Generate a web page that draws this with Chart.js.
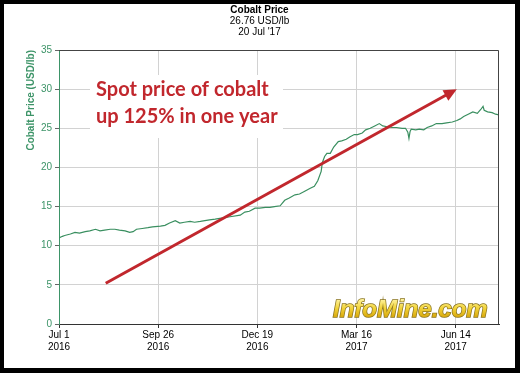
<!DOCTYPE html>
<html>
<head>
<meta charset="utf-8">
<script src="https://cdn.jsdelivr.net/npm/chart.js@4.4.0/dist/chart.umd.min.js"></script>
<style>
  html, body { margin: 0; padding: 0; background: #000; }
  #frame { position: absolute; left: 4px; top: 4px; width: 511px; height: 364px; background: #fff; }
  canvas { display: block; }
</style>
</head>
<body>
<div id="frame"><canvas id="cobaltChart" width="511" height="364"></canvas></div>
<script>
// x = trading day index since Jul 1 2016, y = USD/lb
const tradingDay = [0, 3, 5, 10, 14, 18, 23, 27, 32, 36, 40, 45, 49, 53, 58, 62, 65, 68, 73, 78,
  82, 89, 93, 97, 102, 106, 110, 115, 119, 124, 132, 137, 141, 150, 159, 163, 167, 172, 176, 181,
  185, 189, 194, 198, 202, 207, 211, 216, 220, 224, 227, 230, 231, 233, 235, 238, 241, 245, 248, 252,
  255, 259, 262, 266, 269, 273, 277, 281, 284, 288, 292, 296, 301, 304, 306, 307, 308, 309, 313, 316,
  320, 323, 327, 331, 336, 340, 345, 349, 352, 355, 359, 363, 367, 370, 372, 373, 376, 380, 383, 386];
const priceUsdLb = [11.0, 11.2, 11.3, 11.5, 11.7, 11.6, 11.8, 11.9, 12.1, 11.9, 12.0, 12.1, 12.1, 12.0, 11.9, 11.7, 11.8, 12.1, 12.2, 12.3,
  12.4, 12.5, 12.6, 12.9, 13.2, 12.9, 13.0, 13.1, 13.0, 13.1, 13.3, 13.4, 13.5, 13.7, 13.9, 14.3, 14.4, 14.8, 14.8, 14.9,
  14.9, 15.0, 15.1, 15.8, 16.1, 16.5, 16.6, 17.0, 17.3, 17.6, 18.3, 19.5, 20.6, 21.4, 21.8, 21.8, 22.6, 23.3, 23.4, 23.6,
  23.9, 24.2, 24.2, 24.4, 24.8, 25.0, 25.3, 25.6, 25.3, 25.2, 25.1, 25.1, 25.0, 25.0, 24.5, 23.7, 24.6, 24.9, 24.8, 24.9,
  24.8, 25.1, 25.3, 25.6, 25.6, 25.7, 25.8, 26.0, 26.2, 26.5, 26.8, 27.1, 26.9, 27.4, 27.8, 27.3, 27.1, 27.0, 26.8, 26.7];

const tickDays = [0, 87, 174, 261, 348];
const tickLabels = [["Jul 1", "2016"], ["Sep 26", "2016"], ["Dec 19", "2016"], ["Mar 16", "2017"], ["Jun 14", "2017"]];
const titleText = "Cobalt Price";
const subtitleLines = ["26.76 USD/lb", "20 Jul '17"];
const noteLines = ["Spot price of cobalt", "up 125% in one year"];
const arrowFrom = [41, 5.2];
const arrowTo = [349, 30.0];
const logoText = "InfoMine.com";

const green = "#3d9468";
const noteRed = "#c1272d";

const overlay = {
  id: "overlay",
  beforeDatasetsDraw(chart) {
    const { ctx, chartArea: a } = chart;
    ctx.save();
    // white box behind the note
    ctx.fillStyle = "#fff";
    ctx.fillRect(a.left + 31, a.top + 25, 193, 63);
    ctx.fillStyle = noteRed;
    ctx.font = "bold 20px Lato";
    ctx.textBaseline = "middle";
    ctx.fillText(noteLines[0], a.left + 37, a.top + 40);
    ctx.fillText(noteLines[1], a.left + 37, a.top + 67);
    ctx.restore();
  },
  afterDatasetsDraw(chart) {
    const { ctx, chartArea: a, scales: { x, y } } = chart;
    ctx.save();
    // plot frame top / right
    ctx.strokeStyle = "#444";
    ctx.lineWidth = 1;
    ctx.beginPath();
    ctx.moveTo(a.left, a.top + 0.5);
    ctx.lineTo(a.right - 0.5, a.top + 0.5);
    ctx.lineTo(a.right - 0.5, a.bottom);
    ctx.stroke();

    // trend arrow
    const x0 = x.getPixelForValue(arrowFrom[0]), y0 = y.getPixelForValue(arrowFrom[1]);
    const x1 = x.getPixelForValue(arrowTo[0]), y1 = y.getPixelForValue(arrowTo[1]);
    const ang = Math.atan2(y1 - y0, x1 - x0);
    ctx.strokeStyle = noteRed;
    ctx.fillStyle = noteRed;
    ctx.lineWidth = 3;
    ctx.beginPath();
    ctx.moveTo(x0, y0);
    ctx.lineTo(x1 - 8 * Math.cos(ang), y1 - 8 * Math.sin(ang));
    ctx.stroke();
    ctx.beginPath();
    ctx.moveTo(x1, y1);
    ctx.lineTo(x1 - 13 * Math.cos(ang) + 6 * Math.sin(ang), y1 - 13 * Math.sin(ang) - 6 * Math.cos(ang));
    ctx.lineTo(x1 - 13 * Math.cos(ang) - 6 * Math.sin(ang), y1 - 13 * Math.sin(ang) + 6 * Math.cos(ang));
    ctx.closePath();
    ctx.fill();

    // logo
    const lx = a.left + 274, ly = a.bottom - 7;
    ctx.font = "italic bold 24px 'Liberation Sans'";
    ctx.textBaseline = "alphabetic";
    const g = ctx.createLinearGradient(0, ly - 18, 0, ly);
    g.addColorStop(0, "#fff4a0");
    g.addColorStop(0.5, "#f2d43c");
    g.addColorStop(1, "#d9a90c");
    ctx.lineWidth = 1.5;
    ctx.strokeStyle = "#8a7420";
    ctx.strokeText(logoText, lx, ly);
    ctx.fillStyle = g;
    ctx.fillText(logoText, lx, ly);
    ctx.restore();
  }
};

new Chart(document.getElementById("cobaltChart"), {
  type: "line",
  data: {
    datasets: [{
      label: "Cobalt Price",
      data: tradingDay.map((d, i) => ({ x: d, y: priceUsdLb[i] })),
      borderColor: "#3a8f60",
      borderWidth: 1.2,
      pointRadius: 0,
      tension: 0
    }]
  },
  options: {
    responsive: false,
    animation: false,
    events: [],
    layout: { padding: { left: 16, right: 16, top: 0, bottom: 0 } },
    plugins: {
      legend: { display: false },
      tooltip: { enabled: false },
      title: {
        display: true,
        text: titleText,
        color: "#000",
        font: { family: "Liberation Sans", size: 10, weight: "bold", lineHeight: 1.1 },
        padding: { top: 1, bottom: 0 }
      },
      subtitle: {
        display: true,
        text: subtitleLines,
        color: "#000",
        font: { family: "Liberation Sans", size: 10, lineHeight: 1.1 },
        padding: { top: 0, bottom: 12 }
      }
    },
    scales: {
      x: {
        type: "linear",
        min: 0,
        max: 386,
        afterBuildTicks: axis => { axis.ticks = tickDays.map(v => ({ value: v })); },
        afterFit: s => { s.height = 44; },
        ticks: {
          callback: (v, i) => tickLabels[i],
          color: "#000",
          font: { family: "Liberation Sans", size: 10, lineHeight: 1.2 },
          padding: 1,
          maxRotation: 0,
          autoSkip: false
        },
        grid: { color: "#d2d2d2", tickLength: 4, tickColor: "#333" },
        border: { color: "#333" }
      },
      y: {
        min: 0,
        max: 35,
        afterFit: s => { s.width = 39; },
        ticks: {
          stepSize: 5,
          color: green,
          font: { family: "Liberation Sans", size: 10 },
          padding: 3
        },
        grid: { color: "#d2d2d2", tickLength: 4, tickColor: "#666" },
        border: { color: green },
        title: {
          display: true,
          text: "Cobalt Price (USD/lb)",
          color: green,
          align: "end",
          font: { family: "Liberation Sans", size: 10, weight: "bold" },
          padding: { top: 5, bottom: 0 }
        }
      }
    }
  },
  plugins: [overlay]
});
</script>
</body>
</html>
